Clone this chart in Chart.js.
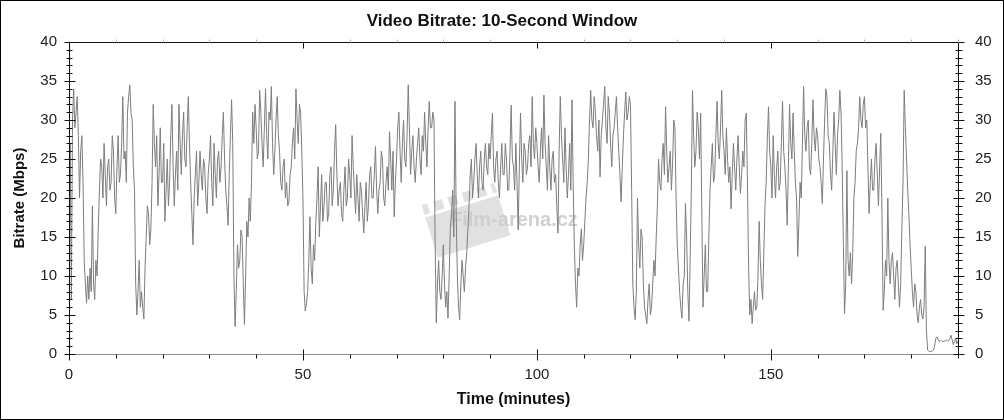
<!DOCTYPE html>
<html>
<head>
<meta charset="utf-8">
<script src="https://cdn.jsdelivr.net/npm/chart.js@4.4.1/dist/chart.umd.min.js"></script>
<style>
html,body{margin:0;padding:0;background:#fff;}
#wrap{width:1004px;height:420px;position:relative;}
canvas{display:block;}
</style>
</head>
<body>
<div id="wrap"><canvas id="c" width="1004" height="420"></canvas></div>
<script>
const chartTitle = 'Video Bitrate: 10-Second Window';
const yAxisTitle = 'Bitrate (Mbps)';
const xAxisTitle = 'Time (minutes)';
const watermarkText = 'Film-arena.cz';
const sampleMinutes = 0.25;
const xTickValues = [0, 50, 100, 150];
const xMinorTickValues = [0,10,20,30,40,50,60,70,80,90,100,110,120,130,140,150,160,170,180,190];
const yTickValues = [0, 5, 10, 15, 20, 25, 30, 35, 40];
const yMinorTickValues = [0,1,2,3,4,5,6,7,8,9,10,11,12,13,14,15,16,17,18,19,20,21,22,23,24,25,26,27,28,29,30,31,32,33,34,35,36,37,38,39,40];

// Mbps, one value every 0.25 minute (each row = 5 minutes)
const bitrate = [
  12, 27, 7, 30, 34, 29, 31, 33, 28, 20, 26, 28, 22, 12, 9, 6.5, 10, 7, 11, 8,
  19, 9, 7, 12, 10, 16, 21, 25, 24, 20, 27, 23, 19, 24, 25, 21, 22, 28, 26, 20,
  18, 24, 28, 22, 23, 27, 33, 25, 26, 22, 31, 33, 34.5, 31, 30, 24, 21, 9, 5, 8,
  12, 6, 8, 6, 4.5, 11, 15, 19, 18, 14, 16, 22, 32, 27, 24, 28, 19, 23, 29, 22,
  22, 27, 17, 21, 25, 19, 22, 28, 32, 24, 19, 23, 26, 21, 32, 27, 23, 28, 31, 25,
  24, 29, 33, 27, 22, 18, 14, 20, 23, 26, 19, 22, 26, 23, 21, 25, 24, 20, 18, 23,
  25, 28, 22, 19, 27, 23, 20, 25, 26, 22, 24, 28, 31, 25, 21, 19, 16.5, 23, 28, 32.6,
  27, 10, 3.5, 8, 14, 11, 12, 15.9, 15, 9, 3.8, 10, 17, 15, 20, 17, 22, 31, 27, 32,
  29, 25, 26, 33.8, 31, 27, 24, 29, 34, 28, 25, 31, 30, 34.3, 27, 23, 26, 30, 33, 28,
  26, 22, 21, 24, 25, 20, 22, 19, 19.5, 23, 24, 27, 29, 25, 34, 30, 27, 32, 31, 26,
  20, 8, 5.5, 6.5, 8, 12, 17.6, 11, 9, 14, 12, 17, 20, 24, 15, 19, 23, 17, 19, 22,
  22, 17, 18, 23, 24, 19, 21, 26, 29.4, 23, 19, 21, 22, 18, 17, 21, 24, 19, 20, 25,
  23, 20, 28, 24, 21, 18, 23, 20, 17, 22, 21, 18, 15.5, 19, 22, 17, 19, 23, 24, 20,
  20, 23, 26.6, 21, 18, 21, 22, 26, 25, 20, 19, 22, 24, 21, 28.5, 25, 21, 26, 17.6, 22,
  25, 29, 31, 26, 22, 27, 30, 25, 24, 28, 34.5, 29, 23, 26, 28, 24, 22, 25, 27, 29,
  25, 23, 28, 26, 31, 27, 24, 29, 32.4, 29, 29, 31, 30, 14, 4, 9, 12, 8, 7, 10,
  14, 9, 6, 8, 4.6, 10, 16, 18, 21, 15, 32.4, 18, 10, 6, 4.4, 9, 12, 10, 8, 11,
  13, 16, 19, 23, 25, 20, 22, 25, 27, 23, 20, 24, 26, 22, 21, 25, 27, 24, 23, 27,
  25, 28, 30.9, 24, 22, 25, 26, 22, 20, 24, 27, 23, 23, 27, 25, 21, 21, 26, 31.9, 25,
  24, 21, 27, 22, 15.9, 24, 30.9, 25, 22, 27, 26, 23, 24, 27, 28, 24, 33, 27, 25, 29,
  27, 24, 22, 26, 29, 25, 33.2, 27, 24, 21, 28, 24, 21, 25, 26, 22, 23, 19, 15.5, 26,
  33, 28, 25, 22, 29, 24, 20, 23, 27, 21, 32.6, 22, 14, 9, 6, 11, 10, 14, 16, 12,
  14, 17, 20, 22, 25, 30, 33.8, 30, 29, 33, 31, 28, 26, 30, 22.7, 28, 30, 32, 34.3, 29,
  27, 33, 31, 27, 24, 28, 29, 31, 33, 29, 26, 23, 19.5, 24, 28, 31, 33.6, 30, 31, 33,
  32, 21, 9, 6, 4.4, 8, 20, 14, 11, 16, 15, 9, 6, 5, 3.9, 7, 9, 5, 6, 9,
  12, 10, 15, 19, 25, 22, 21, 25, 27, 23, 31.7, 26, 22, 24, 26, 21, 24.5, 30, 29, 20,
  14, 11, 8, 6, 4.6, 9, 10, 19.3, 15, 8, 4.2, 12, 21, 33.8, 28, 24, 26, 31, 29, 25,
  30.9, 18, 6, 10, 14, 8, 8, 15, 21, 24, 27, 22, 23, 28, 32.4, 27, 25, 29, 33.8, 28,
  26, 23, 29, 25, 22, 24, 18.6, 23, 27, 24, 21, 25, 28, 24, 20.6, 23, 26, 24, 30, 30.9,
  22, 11, 5, 7, 3.9, 6, 8, 5.6, 6, 10, 17, 12, 9, 7, 13, 19, 22, 27.6, 31.7, 26,
  24, 20, 28, 23, 20, 24, 26, 21, 22, 27, 32.4, 26, 24, 21, 16.5, 24, 32, 27, 25, 30.9,
  26, 22, 20, 12.5, 17, 22, 20, 27, 34.3, 28, 26, 29, 30, 24, 23, 27, 32.6, 28, 26, 29,
  28, 25, 24, 22, 19.3, 25, 30, 34, 33, 28, 27, 23, 21, 26, 31, 27, 23, 28, 30, 33.8,
  31, 24, 14, 5.2, 9, 23.5, 12, 10, 13, 9, 13, 20, 22, 26, 27, 29, 33, 30, 29, 32,
  33, 29, 30, 24, 18, 22, 25, 21, 21, 25, 27, 23, 19, 24, 28.3, 18, 5.6, 8, 12, 10,
  20, 12, 9, 12, 13, 10, 7, 11, 12, 9, 6, 9, 16, 22, 33.8, 29, 25, 21, 18, 14,
  11, 8, 6, 9, 8, 5, 4, 6, 7, 5, 4.5, 6, 13.8, 3, 0.5, 0.4, 0.3, 0.3, 0.4, 0.5,
  1.0, 2.0, 2.2, 1.8, 1.6, 1.7, 1.7, 1.6, 1.6, 1.7, 1.8, 1.7, 1.7, 2.0, 2.4, 1.8, 1.2, 1.6, 2.0, 1.3,
  1.7
];

const points = bitrate.map((v, i) => ({ x: i * sampleMinutes, y: v }));

function hline(ctx, x1, x2, y) { ctx.beginPath(); ctx.moveTo(x1, y); ctx.lineTo(x2, y); ctx.stroke(); }
function vline(ctx, x, y1, y2) { ctx.beginPath(); ctx.moveTo(x, y1); ctx.lineTo(x, y2); ctx.stroke(); }

const decorPlugin = {
  id: 'decor',
  beforeDatasetsDraw(chart) {
    const ctx = chart.ctx;
    ctx.save();
    ctx.translate(464, 214);
    ctx.rotate(-0.3);
    ctx.fillStyle = 'rgba(222,222,222,0.9)';
    ctx.fillRect(-38, -8, 76, 42);
    ctx.fillRect(-38, -21, 76, 10);
    ctx.fillStyle = '#ffffff';
    for (let i = 0; i < 5; i++) { ctx.fillRect(-32 + i * 15, -21, 6, 10); }
    ctx.restore();
    ctx.save();
    ctx.font = 'bold 20px "Liberation Sans", Arial, sans-serif';
    ctx.fillStyle = 'rgba(205,205,205,0.95)';
    ctx.textBaseline = 'middle';
    ctx.textAlign = 'left';
    ctx.fillText(watermarkText, 450, 220);
    ctx.restore();
  },
  afterDraw(chart) {
    const { ctx, chartArea: a, scales } = chart;
    const sx = scales.x, sy = scales.y;
    const L = Math.round(a.left) + 0.5, R = Math.round(a.right) + 0.5;
    const T = Math.round(a.top) + 0.5, B = Math.round(a.bottom) + 0.5;
    ctx.save();
    ctx.lineWidth = 1;
    ctx.strokeStyle = '#111';
    vline(ctx, L, T, B);
    vline(ctx, R, T, B);
    hline(ctx, L, R, T);
    ctx.strokeStyle = '#8c8c8c';
    hline(ctx, L, R, B);
    ctx.strokeStyle = '#111';
    yMinorTickValues.forEach(v => {
      const p = Math.round(sy.getPixelForValue(v)) + 0.5;
      const major = yTickValues.includes(v);
      if (major) { hline(ctx, L - 5, L + 6, p); hline(ctx, R - 5, R + 6, p); }
      else { hline(ctx, L - 3, L + 3, p); hline(ctx, R - 3, R + 4, p); }
    });
    xMinorTickValues.forEach(v => {
      const p = Math.round(sx.getPixelForValue(v)) + 0.5;
      const major = xTickValues.includes(v);
      ctx.strokeStyle = '#111';
      if (major) { vline(ctx, p, B - (v === 0 ? 0 : 5), B + 6); vline(ctx, p, T, T + (v === 0 ? 0 : 6)); }
      else { vline(ctx, p, B, B + 4); ctx.strokeStyle = '#bbb'; vline(ctx, p, T - 3, T); }
    });
    ctx.strokeStyle = '#000';
    ctx.strokeRect(0.5, 0.5, chart.width - 1, chart.height - 1);
    ctx.restore();
  }
};

const fontFamily = '"Liberation Sans", Arial, sans-serif';
const labelFont = { family: fontFamily, size: 15 };

new Chart(document.getElementById('c'), {
  type: 'line',
  data: {
    datasets: [{
      data: points,
      borderColor: '#7d7d7d',
      borderWidth: 1,
      pointRadius: 0,
      tension: 0,
      fill: false,
      xAxisID: 'x',
      yAxisID: 'y'
    }]
  },
  options: {
    responsive: false,
    devicePixelRatio: 1,
    animation: false,
    layout: { padding: 0 },
    plugins: {
      legend: { display: false },
      tooltip: { enabled: false },
      title: {
        display: true,
        text: chartTitle,
        color: '#111',
        font: { family: fontFamily, size: 17, weight: 'bold' },
        padding: { top: 11, bottom: 10.6 }
      }
    },
    scales: {
      x: {
        type: 'linear',
        position: 'bottom',
        min: 0, max: 190,
        grid: { display: false, drawTicks: false },
        border: { display: false },
        afterBuildTicks: s => { s.ticks = xTickValues.map(v => ({ value: v })); },
        afterFit: s => { s.height = 66; },
        ticks: { font: labelFont, color: '#222', padding: 12, maxRotation: 0, autoSkip: false },
        title: { display: true, text: xAxisTitle, color: '#111', font: { family: fontFamily, size: 16, weight: 'bold' }, padding: { top: 0, bottom: 10.4 } }
      },
      y: {
        type: 'linear',
        position: 'left',
        min: 0, max: 40,
        grid: { display: false, drawTicks: false },
        border: { display: false },
        afterBuildTicks: s => { s.ticks = yTickValues.map(v => ({ value: v })); },
        afterFit: s => { s.width = 69; },
        ticks: { font: labelFont, color: '#222', padding: 12 },
        title: { display: true, text: yAxisTitle, color: '#111', font: { family: fontFamily, size: 15, weight: 'bold' }, padding: { top: 11, bottom: 0 } }
      },
      y2: {
        type: 'linear',
        position: 'right',
        min: 0, max: 40,
        grid: { display: false, drawTicks: false },
        border: { display: false },
        afterBuildTicks: s => { s.ticks = yTickValues.map(v => ({ value: v })); },
        afterFit: s => { s.width = 46; },
        ticks: { font: labelFont, color: '#222', padding: 17 }
      }
    }
  },
  plugins: [decorPlugin]
});
</script>
</body>
</html>
